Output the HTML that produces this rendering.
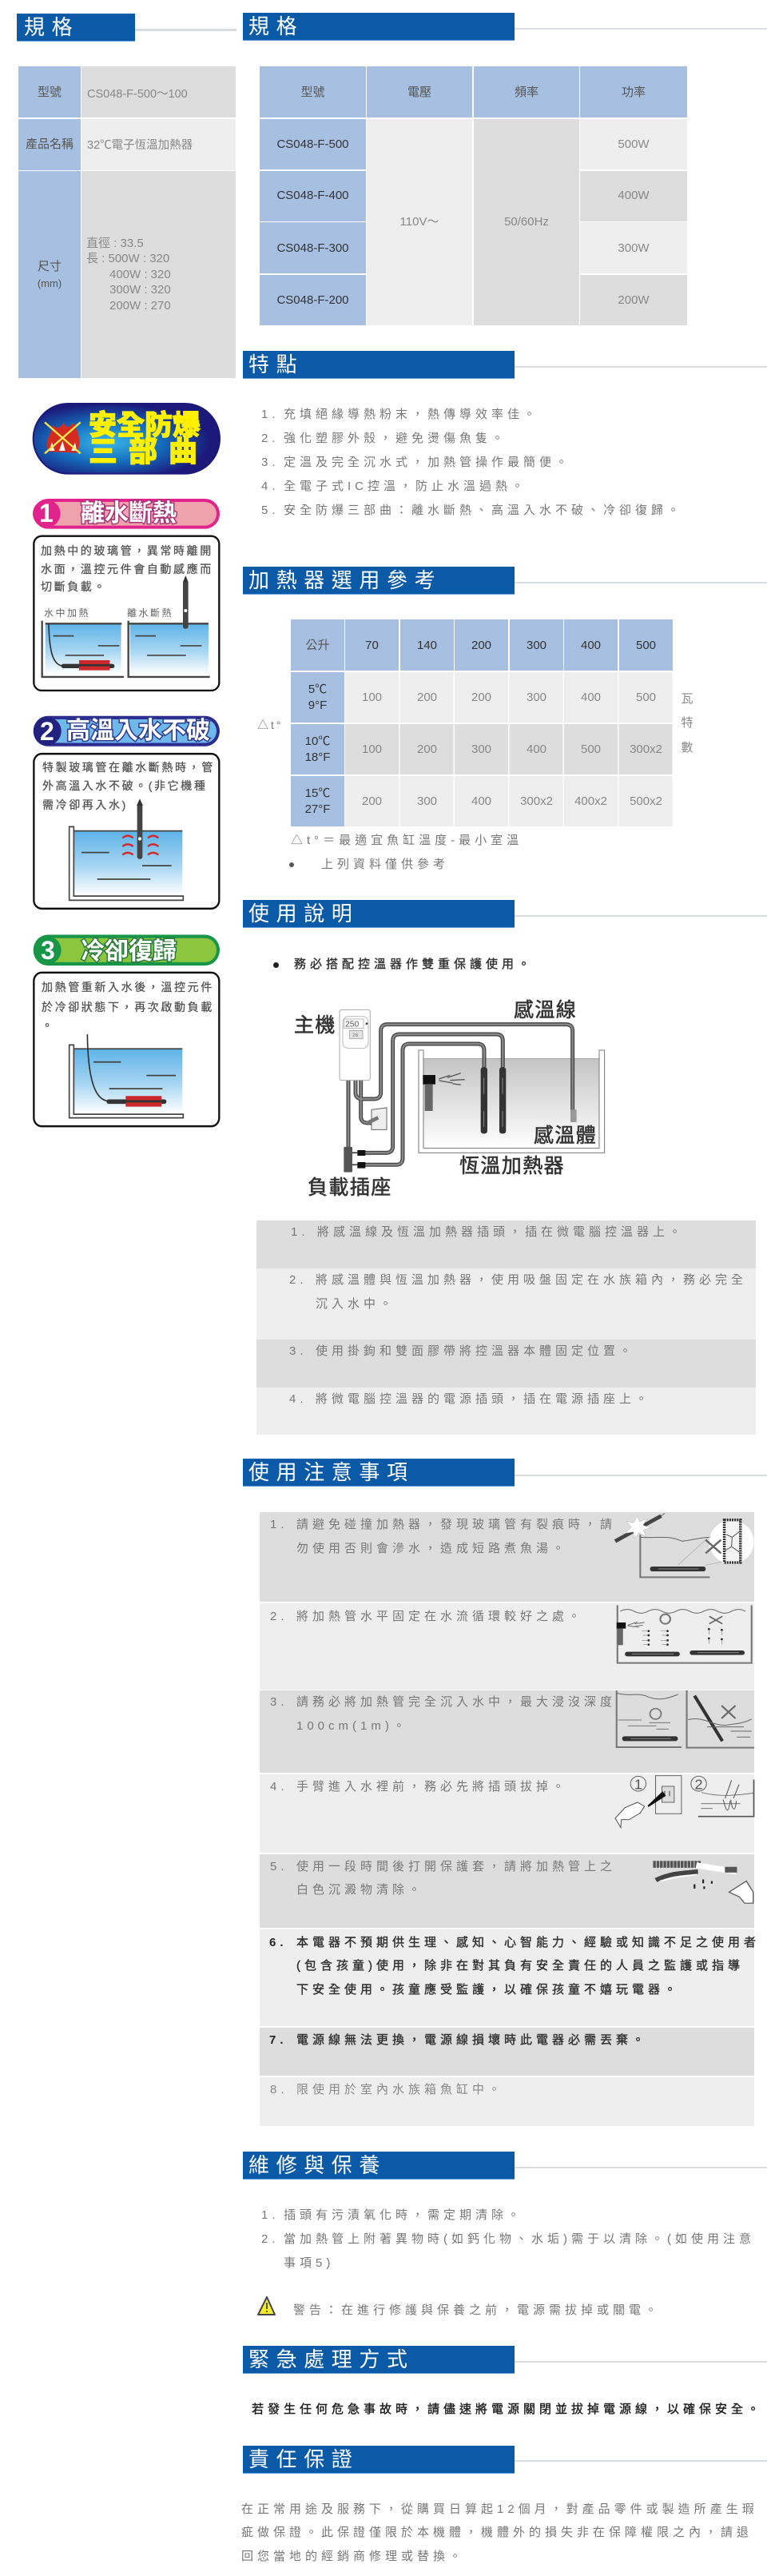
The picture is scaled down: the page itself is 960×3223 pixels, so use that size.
<!DOCTYPE html>
<html lang="zh-Hant"><head><meta charset="utf-8"><title>規格</title>
<style>
html,body{margin:0;padding:0;background:#fff}
#p{position:relative;width:960px;height:3223px;overflow:hidden;font-family:"Liberation Sans","Noto Sans CJK TC",sans-serif;color:#777}
.b{position:absolute}
.t{position:absolute;white-space:nowrap;line-height:20px;font-size:15px;letter-spacing:5px}
.c{position:absolute;text-align:center;white-space:nowrap;line-height:19.5px;font-size:15px}
.h{position:absolute;background:#0b5aa7;border-bottom:1px solid #6aa3dc;color:#fff;font-size:26px;line-height:34px;letter-spacing:8.6px;box-sizing:border-box;white-space:nowrap;padding-left:7px;height:35px}
.l{position:absolute;background:#d9dce0;height:2px}
.k{color:#333}.d{background:#ddd}.e{background:#eee}.u{background:#a7bfe0}
.s{font-size:30px;font-weight:700;color:#fff;letter-spacing:0;-webkit-text-stroke:3px #444;paint-order:stroke fill;line-height:36px}
.m{font-size:14px;letter-spacing:2.6px;color:#555;-webkit-text-stroke:.3px #555}
.n{font-size:12px;letter-spacing:2.5px;color:#666}
.q{font-size:25px;color:#333;letter-spacing:1.4px;line-height:30px;-webkit-text-stroke:.6px #333}
svg{position:absolute;left:0;top:0}
</style></head><body><div id="p">

<!-- headers -->
<div class="h" style="left:21px;top:17px;width:148px;padding-left:9px">規格</div><div class="l" style="left:169px;top:36px;width:127px;height:3px"></div>
<div class="h" style="left:304px;top:16px;width:340px">規格</div><div class="l" style="left:644px;top:35px;width:316px"></div>
<div class="h" style="left:304px;top:439px;width:340px">特點</div><div class="l" style="left:644px;top:458px;width:316px"></div>
<div class="h" style="left:304px;top:709px;width:340px">加熱器選用參考</div><div class="l" style="left:644px;top:728px;width:316px"></div>
<div class="h" style="left:304px;top:1126px;width:340px">使用說明</div><div class="l" style="left:644px;top:1145px;width:316px"></div>
<div class="h" style="left:304px;top:1825px;width:340px">使用注意事項</div><div class="l" style="left:644px;top:1845px;width:316px"></div>
<div class="h" style="left:304px;top:2692px;width:340px">維修與保養</div><div class="l" style="left:644px;top:2711px;width:316px"></div>
<div class="h" style="left:304px;top:2935px;width:340px">緊急處理方式</div><div class="l" style="left:644px;top:2954px;width:316px"></div>
<div class="h" style="left:304px;top:3060px;width:340px">責任保證</div><div class="l" style="left:644px;top:3078px;width:316px"></div>

<!-- left spec table -->
<div class="b u" style="left:23px;top:83px;width:78px;height:64px"></div>
<div class="b d" style="left:102px;top:83px;width:193px;height:64px"></div>
<div class="b u" style="left:23px;top:149px;width:78px;height:64px"></div>
<div class="b e" style="left:102px;top:149px;width:193px;height:64px"></div>
<div class="b u" style="left:23px;top:214px;width:78px;height:259px"></div>
<div class="b d" style="left:102px;top:214px;width:193px;height:259px"></div>
<div class="c" style="left:23px;top:106px;width:78px;color:#555">型號</div>
<div class="c" style="left:23px;top:171px;width:78px;color:#555">產品名稱</div>
<div class="c" style="left:23px;top:324px;width:78px;color:#555">尺寸</div>
<div class="c" style="left:23px;top:345px;width:78px;color:#555;font-size:13px">(mm)</div>
<div class="c" style="left:109px;top:109px;color:#888;font-size:14.5px">CS048-F-500～100</div>
<div class="c" style="left:109px;top:173px;color:#888;font-size:14.5px">32℃電子恆溫加熱器</div>
<div class="c" style="left:108px;top:295px;color:#888">直徑 : 33.5</div>
<div class="c" style="left:108px;top:314px;color:#888">長 : 500W : 320</div>
<div class="c" style="left:137px;top:334px;color:#888">400W : 320</div>
<div class="c" style="left:137px;top:353px;color:#888">300W : 320</div>
<div class="c" style="left:137px;top:373px;color:#888">200W : 270</div>

<!-- right spec table -->
<div class="b u" style="left:325px;top:83px;width:133px;height:64px"></div>
<div class="b u" style="left:459px;top:83px;width:132px;height:64px"></div>
<div class="b u" style="left:593px;top:83px;width:132px;height:64px"></div>
<div class="b u" style="left:726px;top:83px;width:134px;height:64px"></div>
<div class="b u" style="left:325px;top:149px;width:133px;height:63px"></div>
<div class="b u" style="left:325px;top:214px;width:133px;height:63px"></div>
<div class="b u" style="left:325px;top:278px;width:133px;height:64px"></div>
<div class="b u" style="left:325px;top:344px;width:133px;height:63px"></div>
<div class="b e" style="left:459px;top:149px;width:132px;height:258px"></div>
<div class="b d" style="left:593px;top:149px;width:132px;height:258px"></div>
<div class="b e" style="left:726px;top:149px;width:134px;height:63px"></div>
<div class="b d" style="left:726px;top:214px;width:134px;height:63px"></div>
<div class="b e" style="left:726px;top:278px;width:134px;height:64px"></div>
<div class="b d" style="left:726px;top:344px;width:134px;height:63px"></div>
<div class="c" style="left:325px;top:106px;width:133px;color:#555">型號</div>
<div class="c" style="left:459px;top:106px;width:132px;color:#555">電壓</div>
<div class="c" style="left:593px;top:106px;width:132px;color:#555">頻率</div>
<div class="c" style="left:726px;top:106px;width:134px;color:#555">功率</div>
<div class="c k" style="left:325px;top:171px;width:133px">CS048-F-500</div>
<div class="c k" style="left:325px;top:235px;width:133px">CS048-F-400</div>
<div class="c k" style="left:325px;top:301px;width:133px">CS048-F-300</div>
<div class="c k" style="left:325px;top:366px;width:133px">CS048-F-200</div>
<div class="c" style="left:459px;top:268px;width:132px;color:#888">110V～</div>
<div class="c" style="left:593px;top:268px;width:132px;color:#888">50/60Hz</div>
<div class="c" style="left:726px;top:171px;width:134px;color:#888">500W</div>
<div class="c" style="left:726px;top:235px;width:134px;color:#888">400W</div>
<div class="c" style="left:726px;top:301px;width:134px;color:#888">300W</div>
<div class="c" style="left:726px;top:366px;width:134px;color:#888">200W</div>

<!-- features -->
<div class="t" style="left:327px;top:509px">1.</div><div class="t" style="left:355px;top:509px">充填絕緣導熱粉末，熱傳導效率佳。</div>
<div class="t" style="left:327px;top:539px">2.</div><div class="t" style="left:355px;top:539px">強化塑膠外殼，避免燙傷魚隻。</div>
<div class="t" style="left:327px;top:569px">3.</div><div class="t" style="left:355px;top:569px">定溫及完全沉水式，加熱管操作最簡便。</div>
<div class="t" style="left:327px;top:599px">4.</div><div class="t" style="left:355px;top:599px">全電子式IC控溫，防止水溫過熱。</div>
<div class="t" style="left:327px;top:629px">5.</div><div class="t" style="left:355px;top:629px">安全防爆三部曲：離水斷熱、高溫入水不破、冷卻復歸。</div>

<!-- selection table -->
<div class="b u" style="left:364px;top:775px;width:67px;height:64px"></div>
<div class="b u" style="left:432px;top:775px;width:67px;height:64px"></div>
<div class="b u" style="left:501px;top:775px;width:67px;height:64px"></div>
<div class="b u" style="left:569px;top:775px;width:67px;height:64px"></div>
<div class="b u" style="left:638px;top:775px;width:67px;height:64px"></div>
<div class="b u" style="left:706px;top:775px;width:67px;height:64px"></div>
<div class="b u" style="left:775px;top:775px;width:67px;height:64px"></div>
<div class="b u" style="left:364px;top:841px;width:67px;height:63px"></div>
<div class="b u" style="left:364px;top:906px;width:67px;height:63px"></div>
<div class="b u" style="left:364px;top:971px;width:67px;height:63px"></div>
<div class="b e" style="left:432px;top:841px;width:410px;height:63px;background:repeating-linear-gradient(90deg,#eee 0 67px,#fff 67px 68.5px)"></div>
<div class="b d" style="left:432px;top:906px;width:410px;height:63px;background:repeating-linear-gradient(90deg,#ddd 0 67px,#fff 67px 68.5px)"></div>
<div class="b e" style="left:432px;top:971px;width:410px;height:63px;background:repeating-linear-gradient(90deg,#eee 0 67px,#fff 67px 68.5px)"></div>

<div class="c" style="left:364px;top:798px;width:67px;color:#555">公升</div>
<div class="c k" style="left:432px;top:798px;width:67px">70</div>
<div class="c k" style="left:501px;top:798px;width:67px">140</div>
<div class="c k" style="left:569px;top:798px;width:67px">200</div>
<div class="c k" style="left:638px;top:798px;width:67px">300</div>
<div class="c k" style="left:706px;top:798px;width:67px">400</div>
<div class="c k" style="left:775px;top:798px;width:67px">500</div>
<div class="c k" style="left:364px;top:853px;width:67px">5℃<br>9°F</div>
<div class="c k" style="left:364px;top:918px;width:67px">10℃<br>18°F</div>
<div class="c k" style="left:364px;top:983px;width:67px">15℃<br>27°F</div>
<div class="c" style="left:432px;top:863px;width:67px;color:#888">100</div><div class="c" style="left:501px;top:863px;width:67px;color:#888">200</div><div class="c" style="left:569px;top:863px;width:67px;color:#888">200</div><div class="c" style="left:638px;top:863px;width:67px;color:#888">300</div><div class="c" style="left:706px;top:863px;width:67px;color:#888">400</div><div class="c" style="left:775px;top:863px;width:67px;color:#888">500</div>
<div class="c" style="left:432px;top:928px;width:67px;color:#888">100</div><div class="c" style="left:501px;top:928px;width:67px;color:#888">200</div><div class="c" style="left:569px;top:928px;width:67px;color:#888">300</div><div class="c" style="left:638px;top:928px;width:67px;color:#888">400</div><div class="c" style="left:706px;top:928px;width:67px;color:#888">500</div><div class="c" style="left:775px;top:928px;width:67px;color:#888">300x2</div>
<div class="c" style="left:432px;top:993px;width:67px;color:#888">200</div><div class="c" style="left:501px;top:993px;width:67px;color:#888">300</div><div class="c" style="left:569px;top:993px;width:67px;color:#888">400</div><div class="c" style="left:638px;top:993px;width:67px;color:#888">300x2</div><div class="c" style="left:706px;top:993px;width:67px;color:#888">400x2</div><div class="c" style="left:775px;top:993px;width:67px;color:#888">500x2</div>
<div class="t" style="left:322px;top:897px;letter-spacing:3px;font-size:14px">△t°</div>
<div class="c" style="left:850px;top:865px;width:20px;color:#888">瓦</div>
<div class="c" style="left:850px;top:895px;width:20px;color:#888">特</div>
<div class="c" style="left:850px;top:926px;width:20px;color:#888">數</div>
<div class="t" style="left:364px;top:1042px">△t°＝最適宜魚缸溫度-最小室溫</div>
<div class="b" style="left:362px;top:1079px;width:6px;height:6px;border-radius:3px;background:#555"></div>
<div class="t" style="left:402px;top:1072px">上列資料僅供參考</div>

<!-- usage -->
<div class="b" style="left:342px;top:1204px;width:7px;height:7px;border-radius:4px;background:#222"></div>
<div class="t k" style="left:368px;top:1197px;-webkit-text-stroke:.4px #333">務必搭配控溫器作雙重保護使用。</div>

<!-- precautions rows -->
<div class="b d" style="left:325px;top:1892px;width:619px;height:112px"></div>
<div class="b e" style="left:325px;top:2006px;width:619px;height:108px"></div>
<div class="b d" style="left:325px;top:2115px;width:619px;height:103px"></div>
<div class="b e" style="left:325px;top:2220px;width:619px;height:98px"></div>
<div class="b d" style="left:325px;top:2320px;width:619px;height:92px"></div>
<div class="b e" style="left:325px;top:2414px;width:619px;height:121px"></div>
<div class="b d" style="left:325px;top:2537px;width:619px;height:60px"></div>
<div class="b e" style="left:325px;top:2599px;width:619px;height:61px"></div>

<svg width="960" height="3223" viewBox="0 0 960 3223">
<defs>
<linearGradient id="w" x1="0" y1="0" x2="0" y2="1"><stop offset="0" stop-color="#5db3e8"/><stop offset=".55" stop-color="#a8d6f2"/><stop offset="1" stop-color="#fff"/></linearGradient>
<linearGradient id="g" x1="0" y1="0" x2="0" y2="1"><stop offset="0" stop-color="#c4c4c4"/><stop offset="1" stop-color="#fff"/></linearGradient>
<radialGradient id="r" cx=".4" cy=".55" r=".55"><stop offset="0" stop-color="#38b8ec"/><stop offset=".55" stop-color="#1468b8"/><stop offset="1" stop-color="#1b1a7a"/></radialGradient>
</defs>

<!-- left: safety graphics, top -->
<g transform="translate(0,490) scale(.3333)">
<rect x="125" y="45" width="700" height="263" rx="131" fill="url(#r)" stroke="#1b1a7a" stroke-width="6"/>
<path d="M180 225 C165 180 190 170 200 125 C215 145 225 135 240 115 C245 140 265 135 275 115 C300 160 305 190 290 230 Z" fill="#d42a20"/>
<path d="M185 222 L195 190 L205 222Z M222 222 L235 185 L245 222Z M268 222 L282 190 L288 222Z" fill="#fff"/>
<path d="M168 115 L302 232 M302 115 L168 232" stroke="#f4e84a" stroke-width="7"/>

<rect x="125" y="402" width="700" height="113" rx="56" fill="#e0248c"/>
<rect x="145" y="414" width="668" height="89" rx="44" fill="#f0a2ac"/>
<circle cx="175" cy="458" r="52" fill="#e0248c"/>
<rect x="127" y="542" width="696" height="580" rx="30" fill="#fff" stroke="#111" stroke-width="7"/>

<rect x="170" y="870" width="285" height="190" fill="url(#w)"/>
<rect x="488" y="870" width="295" height="190" fill="url(#w)"/>
<path d="M158 860V1071H465M170 871H457M482 860V1071H788M482 871H783" fill="none" stroke="#444" stroke-width="7"/>
<path d="M200 917H277M368 954H448M245 990H390M508 917H585M677 954H757M552 990H698" stroke="#444" stroke-width="5"/>
<path d="M183 870C185 980 200 1030 240 1030" fill="none" stroke="#333" stroke-width="5"/>
<rect x="230" y="1022" width="200" height="16" rx="8" fill="#333"/><rect x="297" y="1008" width="115" height="38" fill="#cc2a2a"/><rect x="297" y="1023" width="115" height="8" fill="#333"/>
<rect x="687" y="710" width="20" height="180" rx="8" fill="#444"/><path d="M697 690L707 715H687Z" fill="#333"/><circle cx="697" cy="822" r="6" fill="#fff"/>
</g>

<!-- left lower graphics -->
<g transform="translate(0,880) scale(.3333,.3509)">
<rect x="125" y="45" width="700" height="108" rx="54" fill="#2d2d90"/>
<rect x="145" y="57" width="668" height="84" rx="42" fill="#6fb8ea"/>
<ellipse cx="178" cy="99" rx="52" ry="50" fill="#23237f"/>
<rect x="127" y="180" width="696" height="552" rx="30" fill="#fff" stroke="#111" stroke-width="7"/>
<rect x="277" y="455" width="408" height="230" fill="url(#w)"/>
<path d="M260 440H277V687H688V702H260Z" fill="#fff" stroke="#444" stroke-width="5"/>
<path d="M277 455H685" stroke="#444" stroke-width="5"/>
<path d="M306 532H410M534 579H644M365 627H565" stroke="#444" stroke-width="5"/>
<rect x="515" y="360" width="20" height="195" rx="8" fill="#444"/><path d="M525 340L537 365H513Z" fill="#333"/><circle cx="525" cy="483" r="6" fill="#fff"/>
<g fill="none" stroke="#d4282a" stroke-width="7"><path d="M460 480q20-15 40 0M460 510q20-15 40 0M460 540q20-15 40 0M555 480q20-15 40 0M555 510q20-15 40 0M555 540q20-15 40 0"/></g>

<rect x="125" y="825" width="700" height="110" rx="55" fill="#179648"/>
<rect x="145" y="837" width="668" height="86" rx="43" fill="#8cc63f"/>
<ellipse cx="178" cy="880" rx="52" ry="50" fill="#179648"/>
<rect x="127" y="960" width="696" height="548" rx="30" fill="#fff" stroke="#111" stroke-width="7"/>
<rect x="277" y="1232" width="408" height="230" fill="url(#w)"/>
<path d="M260 1218H277V1465H688V1478H260Z" fill="#fff" stroke="#444" stroke-width="5"/>
<path d="M277 1232H685" stroke="#444" stroke-width="5"/>
<path d="M351 1279H454M550 1327H660M410 1374H610" stroke="#444" stroke-width="5"/>
<path d="M328 1180C330 1320 350 1418 410 1418" fill="none" stroke="#333" stroke-width="5"/>
<rect x="400" y="1412" width="225" height="16" rx="8" fill="#333"/><rect x="472" y="1400" width="135" height="38" fill="#cc2a2a"/><rect x="472" y="1415" width="135" height="8" fill="#333"/>
</g>

<!-- usage diagram -->
<g transform="translate(360,1240) scale(.3333)">
<rect x="510" y="253" width="660" height="337" fill="url(#g)"/>
<path d="M492 222H510V590H1170V222H1190V607H492Z" fill="#fff" stroke="#777" stroke-width="3"/>
<path d="M510 253H1170" stroke="#999" stroke-width="2"/>
<rect x="508" y="315" width="47" height="35" fill="#111"/><rect x="515" y="350" width="30" height="100" fill="#666"/>
<path d="M568 330L610 316M568 336L620 345M600 325L650 308M610 335L665 332M620 348L650 352" stroke="#555" stroke-width="4"/>
<g fill="none" stroke="#444" stroke-width="15">
<path d="M255 335V380Q255 405 280 405H325Q350 405 350 380V150Q350 125 375 125H1045Q1070 125 1070 150V445"/>
<path d="M275 335V470Q275 495 300 495H320"/>
<path d="M228 335V585"/>
<path d="M290 607H370Q395 607 395 582V187Q395 162 420 162H783Q808 162 808 187V285"/>
<path d="M290 652H407Q432 652 432 627V223Q432 198 457 198H713Q738 198 738 223V285"/>
</g>
<g fill="none" stroke="#888" stroke-width="7">
<path d="M255 335V380Q255 405 280 405H325Q350 405 350 380V150Q350 125 375 125H1045Q1070 125 1070 150V445"/>
<path d="M275 335V470Q275 495 300 495H320"/>
<path d="M228 335V585"/>
<path d="M290 607H370Q395 607 395 582V187Q395 162 420 162H783Q808 162 808 187V285"/>
<path d="M290 652H407Q432 652 432 627V223Q432 198 457 198H713Q738 198 738 223V285"/>
</g>
<rect x="195" y="70" width="115" height="265" rx="8" fill="#fff" stroke="#aaa" stroke-width="3"/>
<rect x="207" y="95" width="96" height="120" rx="22" fill="#fff" stroke="#bbb" stroke-width="3"/>
<rect x="212" y="105" width="73" height="35" fill="#fff" stroke="#999" stroke-width="2"/>
<rect x="233" y="148" width="49" height="30" fill="#e4e4e4" stroke="#888" stroke-width="2"/>
<circle cx="297" cy="122" r="4" fill="#333"/>
<text x="216" y="134" font-size="31" fill="#555" font-family="Liberation Sans">250</text>
<text x="243" y="171" font-size="20" fill="#777" font-family="Liberation Sans">26</text>
<path d="M315 445L372 438V520L315 520Z" fill="#eee" stroke="#666" stroke-width="3"/>
<path d="M300 495L340 475" stroke="#777" stroke-width="14"/>
<rect x="211" y="585" width="32" height="95" rx="3" fill="#555"/>
<path d="M262 597H292V618H262ZM262 642H292V665H262Z" fill="#111"/>
<path d="M243 607H262M243 652H262" stroke="#333" stroke-width="5"/>
<rect x="1062" y="445" width="23" height="47" fill="#999"/>
<rect x="725" y="285" width="25" height="250" rx="10" fill="#333"/><rect x="795" y="285" width="25" height="250" rx="10" fill="#333"/>
<path d="M737 325v60M737 450v60M807 325v60M807 450v60" stroke="#888" stroke-width="3"/>
</g>

<!-- precaution images rows 1-2 -->
<g transform="translate(770,1890) scale(.3484,.3333)">
<path d="M90 90V250H340" fill="none" stroke="#777" stroke-width="6"/>
<path d="M90 100C150 105 190 90 240 115C280 110 310 100 340 100" fill="none" stroke="#666" stroke-width="3"/>
<path d="M0 115L165 20" stroke="#444" stroke-width="14"/>
<path d="M165 20L178 10" stroke="#666" stroke-width="3"/>
<path d="M80 20L88 42L115 30L100 55L130 65L100 72L112 100L85 82L70 105L65 80L38 85L58 62L40 40L66 46Z" fill="#fff" stroke="#999"/>
<path d="M225 205L335 100M325 205L395 190" stroke="#aaa" stroke-width="2"/>
<rect x="125" y="210" width="200" height="18" rx="8" fill="#333"/>
<path d="M155 219H300" stroke="#888" stroke-width="3"/>
<ellipse cx="418" cy="118" rx="80" ry="82" fill="#fff"/>
<path d="M392 35H450V195H392Z" fill="#f4f4f4" stroke="#333" stroke-width="10" stroke-dasharray="6 3"/>
<path d="M400 90L420 100L445 80M420 100L418 135L395 150M418 135L445 155" fill="none" stroke="#555" stroke-width="3"/>
<path d="M325 110L380 160M380 110L325 160" stroke="#666" stroke-width="7"/>

<path d="M8 355V572H490V355" fill="none" stroke="#777" stroke-width="6"/>
<path d="M18 378q25-14 50 0t50 0t50 0t50 0t50 0t50 0t50 0t50 0t50 0" fill="none" stroke="#666" stroke-width="3"/>
<rect x="5" y="420" width="33" height="23" fill="#111"/><rect x="8" y="443" width="20" height="62" fill="#666"/>
<path d="M45 430L80 418M45 432L85 438M70 425L105 420M70 435L100 430" stroke="#666" stroke-width="3"/>
<circle cx="180" cy="407" r="18" fill="none" stroke="#777" stroke-width="6"/>
<path d="M338 397L385 425M385 397L338 425" stroke="#666" stroke-width="5"/>
<g fill="#222"><circle cx="120" cy="452" r="4"/><circle cx="120" cy="468" r="4"/><circle cx="120" cy="487" r="4"/><circle cx="120" cy="503" r="4"/><circle cx="188" cy="452" r="4"/><circle cx="188" cy="468" r="4"/><circle cx="188" cy="487" r="4"/><circle cx="188" cy="503" r="4"/><circle cx="337" cy="445" r="4"/><circle cx="337" cy="480" r="4"/><circle cx="383" cy="448" r="4"/><circle cx="383" cy="483" r="4"/></g>
<path d="M95 452H118M100 468H118M95 487H118M100 503H118M163 452H186M168 468H186M163 487H186M168 503H186M337 445V465M337 480V500M383 448V468M383 483V503" stroke="#888" stroke-width="2"/>
<rect x="35" y="530" width="197" height="17" rx="8" fill="#333"/><rect x="268" y="525" width="197" height="17" rx="8" fill="#333"/>
<path d="M60 538H210M295 533H445" stroke="#888" stroke-width="3"/>
</g>

<!-- precaution images rows 3-4 -->
<g transform="translate(770,2110) scale(.3484,.3333)">
<path d="M5 15V228H238M257 15V230H500" fill="none" stroke="#777" stroke-width="6"/>
<path d="M5 25C60 40 80 20 120 40C160 55 190 45 225 30" fill="none" stroke="#666" stroke-width="3"/>
<circle cx="145" cy="103" r="20" fill="none" stroke="#777" stroke-width="5"/>
<path d="M10 126H95M122 136H198M45 148H148M148 160H192" stroke="#777" stroke-width="3"/>
<rect x="25" y="187" width="200" height="18" rx="8" fill="#333"/>
<path d="M55 196H200" stroke="#888" stroke-width="3"/>
<path d="M285 35L385 205" stroke="#333" stroke-width="12"/>
<path d="M382 72L432 120M432 72L382 120" stroke="#666" stroke-width="6"/>
<path d="M262 125C320 110 350 150 400 145C440 140 470 135 490 122M330 152H462M415 168H490M437 190H485" fill="none" stroke="#666" stroke-width="3"/>

<circle cx="83" cy="365" r="28" fill="none" stroke="#666" stroke-width="3"/>
<text x="83" y="385" text-anchor="middle" font-size="52" fill="#555" font-family="Liberation Sans">1</text>
<rect x="145" y="335" width="93" height="143" fill="#eee" stroke="#666" stroke-width="3"/>
<rect x="168" y="375" width="44" height="60" fill="#ddd" stroke="#666" stroke-width="3"/>
<path d="M178 392V412M195 392V412" stroke="#444" stroke-width="3"/>
<path d="M118 450L170 398L178 410Z" fill="#111" stroke="#111" stroke-width="6"/>
<path d="M20 530L0 495L35 455L80 435L105 450L90 475L50 500L22 500Z" fill="#fff" stroke="#555" stroke-width="3"/>
<circle cx="300" cy="365" r="28" fill="none" stroke="#666" stroke-width="3"/>
<text x="300" y="385" text-anchor="middle" font-size="52" fill="#555" font-family="Liberation Sans">2</text>
<path d="M298 488H498V350" fill="none" stroke="#555" stroke-width="5"/>
<path d="M310 398C370 415 430 410 498 400M308 440H450M308 458H350" fill="none" stroke="#666" stroke-width="2.5"/>
<path d="M395 420L418 352M425 420L445 368M388 425q10 40 15 40q5 0 10-35M415 425q5 35 12 35q5 0 8-30" fill="none" stroke="#555" stroke-width="3"/>
</g>

<!-- precaution image row 5 -->
<g transform="translate(290,1810) scale(.4323,.3953)">
<path d="M1220 1322H1360" stroke="#555" stroke-width="22" stroke-dasharray="8 2"/>
<path d="M1345 1325L1460 1345" stroke="#fff" stroke-width="18"/><rect x="1428" y="1330" width="35" height="18" fill="#555"/>
<path d="M1228 1372C1270 1350 1300 1350 1350 1345" stroke="#444" stroke-width="14" fill="none"/>
<path d="M1240 1375C1280 1365 1300 1360 1345 1355" stroke="#fff" stroke-width="4" fill="none"/>
<path d="M1340 1385v14M1365 1370v12M1390 1375v8M1368 1392v8" stroke="#222" stroke-width="5"/>
<path d="M1440 1410L1490 1375L1510 1410V1445H1485L1470 1425Z" fill="#fff" stroke="#555" stroke-width="3"/>
</g>

<!-- warning triangle -->
<path d="M334 2874L344 2896H323Z" fill="#f2ec2a" stroke="#445" stroke-width="2" stroke-linejoin="round"/>
<path d="M334 2881V2889M334 2891V2893" stroke="#222" stroke-width="1.5"/>
</svg>

<!-- usage steps -->
<div class="b d" style="left:321px;top:1527px;width:625px;height:60px"></div>
<div class="b e" style="left:321px;top:1587px;width:625px;height:89px"></div>
<div class="b d" style="left:321px;top:1676px;width:625px;height:60px"></div>
<div class="b e" style="left:321px;top:1736px;width:625px;height:59px"></div>
<div class="t" style="left:364px;top:1532px">1.</div><div class="t" style="left:397px;top:1532px">將感溫線及恆溫加熱器插頭，插在微電腦控溫器上。</div>
<div class="t" style="left:362px;top:1592px">2.</div><div class="t" style="left:395px;top:1592px">將感溫體與恆溫加熱器，使用吸盤固定在水族箱內，務必完全</div>
<div class="t" style="left:395px;top:1622px">沉入水中。</div>
<div class="t" style="left:362px;top:1681px">3.</div><div class="t" style="left:395px;top:1681px">使用掛鉤和雙面膠帶將控溫器本體固定位置。</div>
<div class="t" style="left:362px;top:1741px">4.</div><div class="t" style="left:395px;top:1741px">將微電腦控溫器的電源插頭，插在電源插座上。</div>

<div class="t q" style="left:368px;top:1268px">主機</div>
<div class="t q" style="left:643px;top:1249px">感溫線</div>
<div class="t q" style="left:668px;top:1406px">感溫體</div>
<div class="t q" style="left:575px;top:1444px">恆溫加熱器</div>
<div class="t q" style="left:385px;top:1471px">負載插座</div>

<div class="t" style="left:338px;top:1898px">1.</div><div class="t" style="left:371px;top:1898px">請避免碰撞加熱器，發現玻璃管有裂痕時，請</div>
<div class="t" style="left:371px;top:1928px">勿使用否則會滲水，造成短路煮魚湯。</div>
<div class="t" style="left:338px;top:2013px">2.</div><div class="t" style="left:371px;top:2013px">將加熱管水平固定在水流循環較好之處。</div>
<div class="t" style="left:338px;top:2120px">3.</div><div class="t" style="left:371px;top:2120px">請務必將加熱管完全沉入水中，最大浸沒深度</div>
<div class="t" style="left:371px;top:2150px">100cm(1m)。</div>
<div class="t" style="left:338px;top:2226px">4.</div><div class="t" style="left:371px;top:2226px">手臂進入水裡前，務必先將插頭拔掉。</div>
<div class="t" style="left:338px;top:2326px">5.</div><div class="t" style="left:371px;top:2326px">使用一段時間後打開保護套，請將加熱管上之</div>
<div class="t" style="left:371px;top:2355px">白色沉澱物清除。</div>
<div class="t" style="left:337px;top:2421px;color:#222;font-weight:700">6.</div><div class="t k" style="left:371px;top:2421px;-webkit-text-stroke:.4px #333">本電器不預期供生理、感知、心智能力、經驗或知識不足之使用者</div>
<div class="t k" style="left:371px;top:2450px;-webkit-text-stroke:.4px #333">(包含孩童)使用，除非在對其負有安全責任的人員之監護或指導</div>
<div class="t k" style="left:371px;top:2480px;-webkit-text-stroke:.4px #333">下安全使用。孩童應受監護，以確保孩童不嬉玩電器。</div>
<div class="t" style="left:337px;top:2543px;color:#222;font-weight:700">7.</div><div class="t k" style="left:371px;top:2543px;-webkit-text-stroke:.4px #333">電源線無法更換，電源線損壞時此電器必需丟棄。</div>
<div class="t" style="left:338px;top:2605px;color:#888">8.</div><div class="t" style="left:371px;top:2605px;color:#888">限使用於室內水族箱魚缸中。</div>

<!-- maintenance -->
<div class="t" style="left:327px;top:2762px">1.</div><div class="t" style="left:355px;top:2762px">插頭有污漬氧化時，需定期清除。</div>
<div class="t" style="left:327px;top:2792px">2.</div><div class="t" style="left:355px;top:2792px">當加熱管上附著異物時(如鈣化物、水垢)需于以清除。(如使用注意</div>
<div class="t" style="left:355px;top:2822px">事項5)</div>
<div class="t" style="left:367px;top:2881px">警告：在進行修護與保養之前，電源需拔掉或關電。</div>
<div class="t" style="left:315px;top:3005px;color:#222;-webkit-text-stroke:.4px #222">若發生任何危急事故時，請儘速將電源關閉並拔掉電源線，以確保安全。</div>
<div class="t" style="left:302px;top:3130px">在正常用途及服務下，從購買日算起12個月，對產品零件或製造所產生瑕</div>
<div class="t" style="left:302px;top:3159px">疵做保證。此保證僅限於本機體，機體外的損失非在保障權限之內，請退</div>
<div class="t" style="left:302px;top:3189px">回您當地的經銷商修理或替換。</div>

<!-- left graphics text -->
<div class="t" style="left:111px;top:515px;font-size:35px;line-height:36px;letter-spacing:0;font-weight:900;color:#ffef00;-webkit-text-stroke:1px #ffef00">安全防爆</div>
<div class="t" style="left:111px;top:547px;font-size:36px;line-height:36px;letter-spacing:14px;font-weight:900;color:#ffef00;-webkit-text-stroke:1px #ffef00">三部曲</div>
<div class="t" style="left:49px;top:622px;font-size:32px;line-height:40px;letter-spacing:0;font-weight:700;color:#fff">1</div>
<div class="t s" style="left:101px;top:625px;-webkit-text-stroke-color:#a83478">離水斷熱</div>
<div class="t m" style="left:51px;top:679px">加熱中的玻璃管，異常時離開</div>
<div class="t m" style="left:51px;top:702px">水面，溫控元件會自動感應而</div>
<div class="t m" style="left:51px;top:724px">切斷負載。</div>
<div class="t n" style="left:55px;top:757px">水中加熱</div>
<div class="t n" style="left:159px;top:757px">離水斷熱</div>
<div class="t" style="left:50px;top:895px;font-size:32px;line-height:40px;letter-spacing:0;font-weight:700;color:#fff">2</div>
<div class="t s" style="left:83px;top:897px;-webkit-text-stroke-color:#2d3a90">高溫入水不破</div>
<div class="t m" style="left:53px;top:950px">特製玻璃管在離水斷熱時，管</div>
<div class="t m" style="left:53px;top:973px">外高溫入水不破。(非它機種</div>
<div class="t m" style="left:53px;top:997px">需冷卻再入水)</div>
<div class="t" style="left:51px;top:1169px;font-size:32px;line-height:40px;letter-spacing:0;font-weight:700;color:#fff">3</div>
<div class="t s" style="left:101px;top:1173px;-webkit-text-stroke-color:#2a7a3c">冷卻復歸</div>
<div class="t m" style="left:52px;top:1225px">加熱管重新入水後，溫控元件</div>
<div class="t m" style="left:52px;top:1250px">於冷卻狀態下，再次啟動負載</div>
<div class="t m" style="left:52px;top:1273px">。</div>
</div></body></html>
